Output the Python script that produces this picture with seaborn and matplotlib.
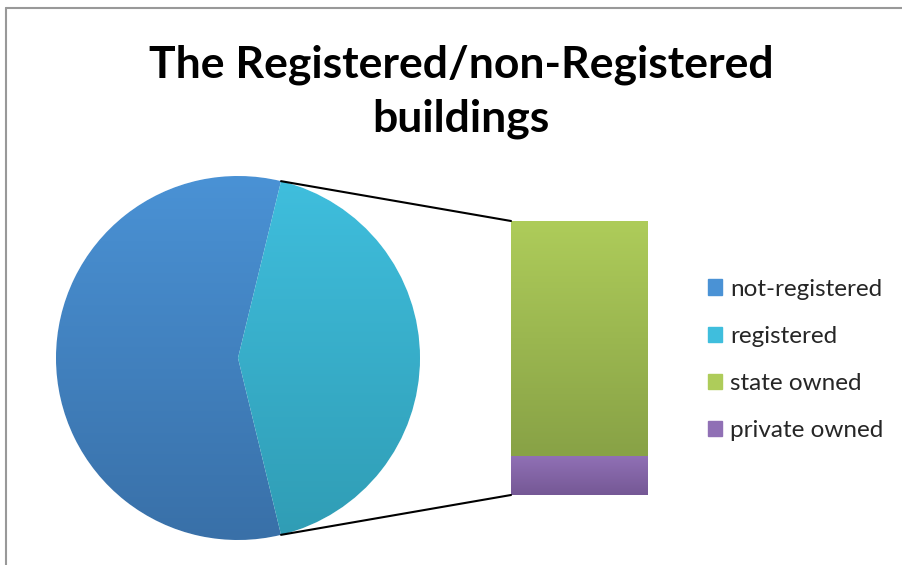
import matplotlib
matplotlib.use('Agg')
import matplotlib.pyplot as plt
import matplotlib.patches as mpatches
from matplotlib.lines import Line2D
from matplotlib.colors import LinearSegmentedColormap
import numpy as np
import seaborn as sns

# data (percent)
pie_labels = ['not-registered', 'registered']
pie_values = [57.6, 42.4]
bar_labels = ['state owned', 'private owned']
bar_values = [85.8, 14.2]

# gradient colours (top, bottom) for each part
pie_colors = [('#4a92d5', '#3970a8'), ('#3fbedd', '#309db5')]
bar_colors = [('#aecc5a', '#88a246'), ('#9070b5', '#755895')]

sns.set_theme(style='white')
plt.rcParams['font.family'] = ['Lato', 'DejaVu Sans']

W, H = 903, 565
fig = plt.figure(figsize=(W / 100, H / 100), dpi=100)
ax = fig.add_axes([0, 0, 1, 1])


def fill_gradient(patch, top, bottom):
    x0, y0, x1, y1 = patch.get_window_extent().transformed(
        ax.transData.inverted()).extents
    cmap = LinearSegmentedColormap.from_list('g', [bottom, top])
    grad = np.linspace(0, 1, 256).reshape(-1, 1)
    im = ax.imshow(grad, cmap=cmap, origin='lower', aspect='auto',
                   extent=(x0, x1, y0, y1), zorder=patch.get_zorder() + 0.1)
    im.set_clip_path(patch)


# pie: registered slice centred on the right side
center = (238, 207)
radius = 182
reg_half = 180 * pie_values[1] / sum(pie_values)
wedges, _ = ax.pie(pie_values, center=center, radius=radius,
                   startangle=reg_half, counterclock=True,
                   colors=[c[1] for c in pie_colors], frame=True)
ax.set_xlim(0, W)
ax.set_ylim(0, H)
ax.set_aspect('equal')
ax.axis('off')

# stacked bar for the split of the registered part
bar_x, bar_w = 579.5, 137
bar_bottom, bar_scale = 70, 2.74
bars = []
bottom = bar_bottom
for val, col in zip(bar_values[::-1], bar_colors[::-1]):
    b = ax.bar(bar_x, val * bar_scale, width=bar_w, bottom=bottom,
               color=col[1], linewidth=0)[0]
    bars.append(b)
    bottom += val * bar_scale
bars = bars[::-1]

fig.canvas.draw()
for w, c in zip(wedges, pie_colors):
    fill_gradient(w, *c)
for b, c in zip(bars, bar_colors):
    fill_gradient(b, *c)

# connector lines
a = np.radians(reg_half)
px = center[0] + radius * np.cos(a)
ax.plot([px, bar_x - bar_w / 2], [center[1] + radius * np.sin(a), bottom],
        color='black', lw=1.5)
ax.plot([px, bar_x - bar_w / 2], [center[1] - radius * np.sin(a), bar_bottom],
        color='black', lw=1.5)

# title
ax.text(461, H - 92, 'The Registered/non-Registered\nbuildings',
        ha='center', va='center', fontsize=32, fontweight='bold',
        linespacing=1.4, color='black')

# legend
handles = [mpatches.Patch(color=c[0]) for c in pie_colors + bar_colors]
ax.legend(handles, pie_labels + bar_labels, loc='center left',
          bbox_to_anchor=(708 / W, (H - 360) / H), frameon=False,
          fontsize=17.5, labelspacing=1.08, handlelength=0.58,
          handleheight=0.58, handletextpad=0.33, borderaxespad=0,
          borderpad=0)

# chart frame (top and left edges visible)
fig.add_artist(Line2D([6.5 / W, 1], [1 - 7.5 / H, 1 - 7.5 / H],
                      transform=fig.transFigure, color='#999999', lw=1.5))
fig.add_artist(Line2D([6.5 / W, 6.5 / W], [0, 1 - 7.5 / H],
                      transform=fig.transFigure, color='#999999', lw=1.5))

fig.savefig('out.png', dpi=100)
